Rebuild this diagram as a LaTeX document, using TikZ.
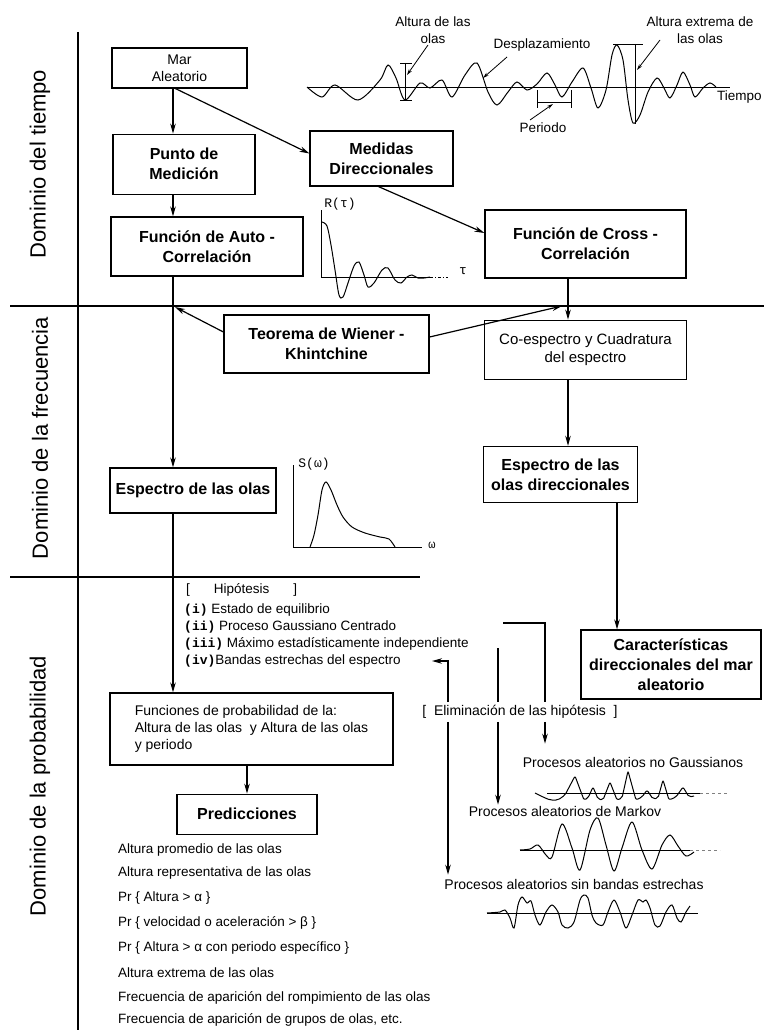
\documentclass[tikz,border=0pt]{standalone}
\usepackage{fontspec}
\setmainfont{Liberation Sans}
\newfontfamily\monofont{Liberation Mono}
\usetikzlibrary{arrows.meta,positioning,calc}
\newcommand{\hyp}[1]{{\monofont\bfseries\fontsize{13}{16}\selectfont(#1)}}

\begin{document}
\begin{tikzpicture}[
  x=1pt, y=-1pt,
  font=\fontsize{14}{17}\selectfont,
  box/.style={draw, line width=1.2pt, inner sep=3pt, align=center},
  bbox/.style={box, font=\fontsize{16}{20}\selectfont\bfseries},
  arrow/.style={-{Stealth[length=10pt,width=5.5pt]}, line width=1.2pt},
  line/.style={line width=1.2pt},
  sep/.style={line width=1.3pt},
  dom/.style={rotate=90, font=\fontsize{22}{26}\selectfont},
  lbl/.style={align=center, inner sep=1pt, font=\fontsize{13.5}{17}\selectfont},
  item/.style={anchor=west, inner sep=0pt, font=\fontsize{13.5}{16}\selectfont},
  wave/.style={line width=1pt, smooth}
]
\useasboundingbox (0,0) rectangle (764,1030);

% domains
\coordinate (v1) at (78,32);
\coordinate (v2) at (78,1030);
\coordinate (t1) at (10,306);
\coordinate (t2) at (764,306);
\coordinate (f1) at (10,577);
\coordinate (f2) at (420,577);
\draw[sep] (v1) -- (v2);
\draw[sep] (t1) -- (t2);
\draw[sep] (f1) -- (f2);
\node[dom] (dtime) at (40,164) {Dominio del tiempo};
\node[dom] (dfreq) at (40,438) {Dominio de la frecuencia};
\node[dom] (dprob) at (40,786) {Dominio de la probabilidad};

% boxes
\node[box, minimum width=135pt, minimum height=40pt] (mar) at (179.5,68)
  {Mar\\Aleatorio};
\node[bbox, minimum width=142pt, minimum height=60pt, below=45pt of mar, xshift=4.5pt] (punto)
  {Punto de\\Medición};
\node[bbox, minimum width=143pt, minimum height=55pt] (medidas) at (381.5,158.5)
  {Medidas\\Direccionales};
\node[bbox, minimum width=192pt, minimum height=59pt] (auto) at (207,246.5)
  {Función de Auto -\\Correlación};
\node[bbox, minimum width=201pt, minimum height=68pt] (cross) at (585.5,244)
  {Función de Cross -\\Correlación};
\node[bbox, minimum width=205pt, minimum height=58pt] (teorema) at (326.5,344)
  {Teorema de Wiener -\\Khintchine};
\node[box, minimum width=202pt, minimum height=59pt, below=41pt of cross,
  font=\fontsize{15}{18}\selectfont] (coesp)
  {Co-espectro y Cuadratura\\del espectro};
\node[bbox, minimum width=166pt, minimum height=45pt] (espectro) at (193,490.5)
  {Espectro de las olas};
\node[bbox, minimum width=154pt, minimum height=56pt, below=66pt of coesp, xshift=-25pt] (espdir)
  {Espectro de las\\olas direccionales};
\node[bbox, minimum width=180pt, minimum height=69pt] (caract) at (671,664.5)
  {Características\\direccionales del mar\\aleatorio};
\node[box, minimum width=283pt, minimum height=72pt, align=left] (funprob) at (251.5,729)
  {Funciones de probabilidad de la:\\Altura de las olas\ \ y Altura de las olas\\y periodo};
\node[bbox, minimum width=140pt, minimum height=40pt, below=28pt of funprob, xshift=-4.5pt] (pred)
  {Predicciones};

\coordinate (sp1) at (173,0);
\coordinate (sp2) at (568,0);
\coordinate (sp3) at (617,0);
\coordinate (sp4) at (247,0);
\coordinate (jl) at (175,307);
\coordinate (jr) at (562,306);

\draw[arrow] (mar.south -| sp1) -- (punto.north -| sp1);
\draw[arrow] ($(mar.south)+(-4,0)$) -- ($(medidas.west)+(0,-5)$);
\draw[arrow] (punto.south -| sp1) -- (auto.north -| sp1);
\draw[arrow] ($(medidas.south)+(-3,0)$) -- ($(cross.west)+(0,-11)$);
\draw[arrow] (auto.south -| sp1) -- (espectro.north -| sp1);
\draw[arrow] (cross.south -| sp2) -- (coesp.north -| sp2);
\draw[arrow] (coesp.south -| sp2) -- (espdir.north -| sp2);
\draw[arrow] (espdir.south -| sp3) -- (caract.north -| sp3);
\draw[arrow] (espectro.south -| sp1) -- (funprob.north -| sp1);
\draw[arrow] (funprob.south -| sp4) -- (pred.north -| sp4);
\draw[arrow] ($(teorema.west)+(0,-12)$) -- (jl);
\draw[arrow] ($(teorema.east)+(0,-7)$) -- (jr);

% time record
\draw[line width=0.8pt] (307,87) -- (730,87);
\draw[wave] plot coordinates {(307,87) (322,97) (335,85) (358,100) (380,80) (388,65)
  (396,78) (405,100) (420,83) (430,88) (442,80) (452,97) (465,75) (477,63) (488,92)
  (497,105) (508,92) (517,82) (527,90) (537,84) (547,73) (555,85) (562,97) (572,82)
  (583,68) (591,88) (598,108) (606,90) (612,55) (617,45) (623,60) (628,100) (633,123)
  (640,115) (648,92) (657,78) (664,88) (670,98) (677,85) (683,72) (690,85) (695,97)
  (703,88) (710,83) (716,87)};
\draw[line width=0.9pt] (400,63) -- (412,63) (405,63) -- (405,100) (400,100) -- (412,100);
\draw[line width=0.9pt] (537,90) -- (537,108) (571,90) -- (571,108) (537,102) -- (571,102);
\draw[line width=0.9pt] (613,44) -- (643,44) (635,44) -- (635,124);
\node[lbl] (hola) at (433,30) {Altura de las\\olas};
\node[lbl] (desp) at (542,45) {Desplazamiento};
\node[lbl] (hext) at (700,30) {Altura extrema de\\las olas};
\node[lbl] (peri) at (543,128) {Periodo};
\node[lbl, anchor=west] (tiem) at (716,97) {Tiempo};
\draw[arrow, line width=0.8pt, -{Stealth[length=6pt,width=3.5pt]}] (428,45) -- (407,75);
\draw[arrow, line width=0.8pt, -{Stealth[length=6pt,width=3.5pt]}] (507,57) -- (483,78);
\draw[arrow, line width=0.8pt, -{Stealth[length=6pt,width=3.5pt]}] (530,120) -- (553,104);
\draw[arrow, line width=0.8pt, -{Stealth[length=6pt,width=3.5pt]}] (660,40) -- (637,70);

% R(tau)
\draw[line width=0.9pt] (321,210) -- (321,277) -- (430,277);
\draw[line width=0.9pt, dash dot] (430,277) -- (448,277);
\draw[wave] plot coordinates {(322,222) (327,226) (331,245) (335,270) (339,295) (343,297)
  (348,283) (354,266) (359,262) (364,275) (368,287) (374,283) (382,270) (388,268)
  (395,280) (401,283) (407,277) (412,275) (418,278) (424,278) (430,277)};
\node[inner sep=0pt, font=\monofont\fontsize{13}{15}\selectfont] (rtau) at (340,204) {R(τ)};
\node[inner sep=0pt, font=\monofont\fontsize{13}{15}\selectfont] (tau) at (463,271) {τ};

% S(omega)
\draw[line width=0.9pt] (293,465) -- (293,547) -- (422,547);
\draw[wave] plot coordinates {(310,547) (314,535) (318,515) (322,490) (326,482) (331,490)
  (337,505) (343,517) (352,527) (365,533) (380,537) (389,539) (395,547)};
\node[inner sep=0pt, font=\monofont\fontsize{13}{15}\selectfont] (somg) at (314,464) {S(ω)};
\node[inner sep=0pt, font=\monofont\fontsize{12}{15}\selectfont] (omg) at (432,545) {ω};

% hypotheses
\node[item] (hyph) at (186,590) {[\hspace{24pt}Hipótesis\hspace{24pt}]};
\node[item] (hyp1) at (184,610) {\hyp{i} Estado de equilibrio};
\node[item] (hyp2) at (184,627) {\hyp{ii} Proceso Gaussiano Centrado};
\node[item] (hyp3) at (184,644) {\hyp{iii} Máximo estadísticamente independiente};
\node[item] (hyp4) at (184,661) {\hyp{iv}Bandas estrechas del espectro};

\node[lbl, inner sep=3pt, font=\fontsize{14}{17}\selectfont] (elim) at (520,712)
  {[\ \ Eliminación de las hipótesis\ \ ]};
\node[lbl, font=\fontsize{14}{17}\selectfont] (proc1) at (633,762) {Procesos aleatorios no Gaussianos};
\node[lbl, font=\fontsize{14}{17}\selectfont] (proc2) at (565,811) {Procesos aleatorios de Markov};
\node[lbl, font=\fontsize{14}{17}\selectfont] (proc3) at (574,884) {Procesos aleatorios sin bandas estrechas};

\coordinate (e1) at (448,661);
\coordinate (e1a) at (432,661);
\coordinate (e2) at (498,648);
\coordinate (e3a) at (503,623);
\coordinate (e3) at (545,623);
\draw[arrow] (elim.north -| e1) -- (e1) -- (e1a);
\draw[line] (e2) -- (elim.north -| e2);
\draw[line] (e3a) -- (e3) -- (elim.north -| e3);
\draw[arrow, shorten >=3pt] (elim.south -| e1) -- (proc3.north -| e1);
\draw[arrow] (elim.south -| e2) -- (proc2.north -| e2);
\draw[arrow, shorten >=12pt] (elim.south -| e3) -- (proc1.north -| e3);

% process samples
\draw[line width=0.7pt] (547,793) -- (700,793);
\draw[line width=0.7pt, dashed, gray] (700,793) -- (730,793);
\draw[line width=1pt, rounded corners=2pt] (535,793) -- (543,797) -- (550,800) -- (558,800)
  -- (565,795) -- (575,776) -- (584,800) -- (588,798) -- (593,787) -- (598,799) -- (603,800)
  -- (610,782) -- (617,800) -- (622,798) -- (628,771) -- (636,800) -- (642,797) -- (647,790)
  -- (653,799) -- (658,798) -- (663,780) -- (669,800) -- (676,797) -- (683,787) -- (689,797)
  -- (694,796);
\draw[line width=0.7pt] (520,850) -- (690,850);
\draw[line width=0.7pt, dashed, gray] (690,850) -- (720,850);
\draw[wave] plot coordinates {(520,850) (530,849) (538,845) (546,855) (552,857)
  (562,824) (572,848) (580,870) (590,830) (598,818) (606,845) (614,871) (622,848)
  (632,822) (642,850) (652,869) (662,845) (670,835) (678,846) (686,856) (694,852)};
\draw[line width=0.7pt] (487,913) -- (698,913);
\draw[wave] plot coordinates {(487,913) (500,912) (505,910) (510,918) (514,928) (518,905)
  (522,897) (527,903) (531,901) (535,915) (540,925) (546,912) (552,905) (558,912)
  (562,925) (568,928) (574,922) (580,900) (584,895) (588,898) (592,915) (596,923)
  (603,925) (608,912) (614,900) (620,912) (626,928) (632,915) (638,900) (643,902)
  (646,900) (650,908) (655,925) (660,926) (666,912) (672,905) (677,918) (681,922)
  (686,912) (690,906)};

% predictions
\node[item] (pr1) at (118,850) {Altura promedio de las olas};
\node[item] (pr2) at (118,873) {Altura representativa de las olas};
\node[item] (pr3) at (118,898) {Pr \{ Altura > α \}};
\node[item] (pr4) at (118,923) {Pr \{ velocidad o aceleración > β \}};
\node[item] (pr5) at (118,948) {Pr \{ Altura > α con periodo específico \}};
\node[item] (pr6) at (118,973) {Altura extrema de las olas};
\node[item] (pr7) at (118,998) {Frecuencia de aparición del rompimiento de las olas};
\node[item] (pr8) at (118,1020) {Frecuencia de aparición de grupos de olas, etc.};
\end{tikzpicture}
\end{document}
